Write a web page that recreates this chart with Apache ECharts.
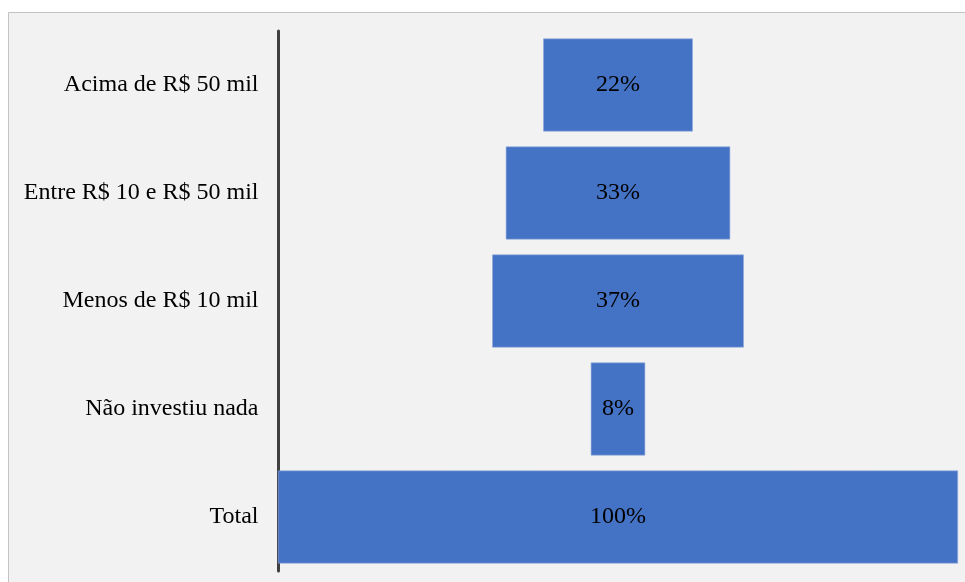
<!DOCTYPE html>
<html>
<head>
<meta charset="utf-8">
<script src="https://cdn.jsdelivr.net/npm/echarts@6/dist/echarts.min.js"></script>
<style>
html,body{margin:0;padding:0;background:#ffffff;}
#chart{width:965px;height:582px;}
</style>
</head>
<body>
<div id="chart"></div>
<script>
const categories = ["Acima de R$ 50 mil", "Entre R$ 10 e R$ 50 mil", "Menos de R$ 10 mil", "Não investiu nada", "Total"];
const values = [22, 33, 37, 8, 100];
const total = 100;

const offsets = values.map(v => (total - v) / 2);

const chart = echarts.init(document.getElementById('chart'), null, {renderer: 'canvas'});
chart.setOption({
  backgroundColor: '#ffffff',
  animation: false,
  graphic: [
    {type: 'rect', z: -10, silent: true,
     shape: {x: 8.5, y: 12.5, width: 960, height: 575},
     style: {fill: '#f2f2f2', stroke: '#c3c3c3', lineWidth: 1}}
  ],
  grid: {left: 278, right: 7, top: 31, bottom: 11, containLabel: false},
  xAxis: {type: 'value', min: 0, max: total, show: false},
  yAxis: {
    type: 'category', data: categories, inverse: true, offset: 1.5,
    axisLine: {show: true, lineStyle: {color: '#404040', width: 3}},
    axisTick: {show: false},
    axisLabel: {color: '#000000', fontFamily: 'Liberation Serif', fontSize: 24, margin: 18, padding: [7, 0, 0, 0]}
  },
  series: [
    {type: 'bar', stack: 'f', data: offsets, itemStyle: {color: 'transparent'}, barCategoryGap: '14%', silent: true},
    {type: 'bar', stack: 'f', data: values, barCategoryGap: '14%',
     itemStyle: {color: '#4472c4', borderColor: '#8faadc', borderWidth: 0.6},
     label: {show: true, position: 'inside', formatter: p => p.value + '%', color: '#000000',
             fontFamily: 'Liberation Serif', fontSize: 24, padding: [7, 0, 0, 0]}}
  ]
});
</script>
</body>
</html>
